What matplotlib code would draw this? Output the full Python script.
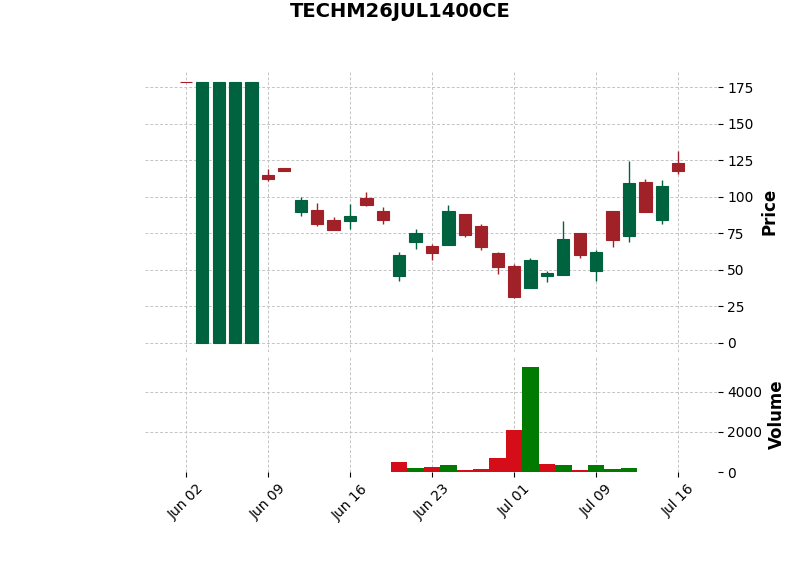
import matplotlib
matplotlib.use('Agg')
import matplotlib.pyplot as plt
import numpy as np

# trading days (index positions on the x axis)
dates = ['Jun 02', 'Jun 03', 'Jun 04', 'Jun 05', 'Jun 06',
         'Jun 09', 'Jun 10', 'Jun 11', 'Jun 12', 'Jun 13',
         'Jun 16', 'Jun 17', 'Jun 18', 'Jun 19', 'Jun 20',
         'Jun 23', 'Jun 24', 'Jun 25', 'Jun 26', 'Jun 27',
         'Jul 01', 'Jul 02', 'Jul 03', 'Jul 04', 'Jul 07',
         'Jul 09', 'Jul 10', 'Jul 11', 'Jul 14', 'Jul 15', 'Jul 16']

opens = [178.4, 0, 0, 0, 0,
         114.8, 119.8, 89.7, 90.9, 84.3,
         83.6, 99.3, 90.2, 45.8, 69.0,
         66.5, 67.0, 88.4, 80.2, 61.7,
         52.9, 37.6, 45.8, 46.5, 75.4,
         49.4, 90.2, 73.1, 110.3, 84.1, 123.2]
highs = [178.4, 178.4, 178.4, 178.4, 178.4,
         118.7, 119.8, 99.6, 95.5, 85.9,
         94.8, 103.2, 92.8, 62.0, 77.7,
         67.5, 94.1, 88.4, 81.3, 62.0,
         54.0, 58.1, 49.4, 83.2, 75.4,
         63.4, 90.2, 124.4, 112.1, 111.2, 131.2]
lows = [178.4, 0, 0, 0, 0,
        111.0, 117.6, 86.8, 80.0, 77.0,
        77.7, 94.0, 81.1, 42.2, 64.5,
        56.7, 67.0, 72.7, 63.8, 46.9,
        30.5, 37.6, 41.5, 46.5, 58.3,
        42.6, 65.8, 69.2, 89.5, 81.5, 115.3]
closes = [178.4, 178.4, 178.4, 178.4, 178.4,
          112.1, 117.6, 98.0, 81.3, 77.2,
          87.0, 94.3, 84.1, 60.4, 75.4,
          61.5, 90.2, 73.8, 65.6, 51.9,
          31.4, 56.9, 47.8, 71.1, 60.1,
          62.2, 70.4, 109.4, 89.5, 107.5, 117.8]
volumes = [0, 0, 0, 0, 0, 0, 0, 0, 0, 0, 0, 0, 0,
           520, 215, 265, 365, 115, 165, 715, 2115, 5265,
           415, 365, 115, 365, 165, 215, 0, 0, 0]

up_color = '#006340'
down_color = '#a02128'
vol_up = '#007a00'
vol_down = '#d50d18'

x = np.arange(len(dates))
o = np.array(opens)
h = np.array(highs)
l = np.array(lows)
c = np.array(closes)
v = np.array(volumes)

fig = plt.figure(figsize=(8, 5.75), dpi=100)
ax = fig.add_axes([0.181, 0.388, 0.716, 0.490])
axv = fig.add_axes([0.181, 0.179, 0.716, 0.200], sharex=ax)

# candles
cols = [up_color if cl > op else down_color for op, cl in zip(o, c)]
ax.vlines(x, l, h, colors=cols, linewidth=1.0, zorder=2)
bottoms = np.minimum(o, c)
heights = np.abs(c - o)
ax.bar(x, heights, bottom=bottoms, width=0.75, color=cols,
       edgecolor=cols, linewidth=0.8, zorder=3)

# volume, coloured by close vs previous close
prev = np.concatenate([[c[0]], c[:-1]])
vcols = [vol_up if cl > pc else vol_down for cl, pc in zip(c, prev)]
axv.bar(x, v, width=1.0, color=vcols, linewidth=0, zorder=3)

for a in (ax, axv):
    for s in a.spines.values():
        s.set_visible(False)
    a.grid(True, linestyle=(0, (3, 2)), color='#c4c4c4', linewidth=0.7)
    a.set_axisbelow(True)
    a.yaxis.tick_right()
    a.yaxis.set_label_position('right')
    a.tick_params(axis='both', labelsize=10)

ax.set_xlim(-2.5, 32.4)
ax.set_ylim(-6.15, 186.6)
ax.set_yticks([0, 25, 50, 75, 100, 125, 150, 175])
ax.tick_params(axis='x', bottom=False, labelbottom=False)
ax.set_ylabel('Price', fontsize=12, fontweight='bold', labelpad=5)

ticks = [0, 5, 10, 15, 20, 25, 30]
axv.set_xticks(ticks)
axv.set_xticklabels([dates[i] for i in ticks], rotation=45)
axv.set_ylim(0, v.max() * 1.09)
axv.set_yticks([0, 2000, 4000])
axv.set_ylabel('Volume', fontsize=12, fontweight='bold', labelpad=4)

fig.suptitle('TECHM26JUL1400CE', fontsize=14, fontweight='bold', x=0.5, y=0.997)

fig.savefig('out.png', dpi=100)
plt.close(fig)
